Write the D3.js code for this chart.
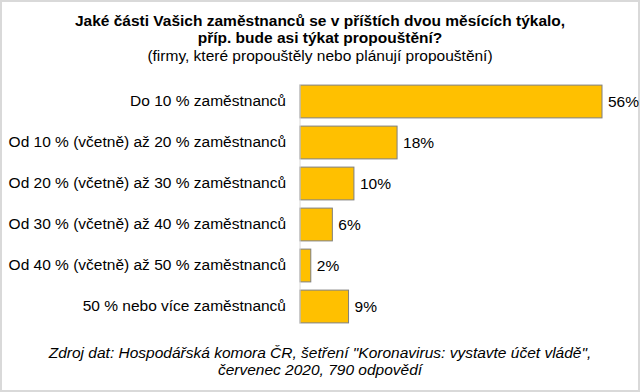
<!DOCTYPE html>
<html>
<head>
<meta charset="utf-8">
<script src="https://cdn.jsdelivr.net/npm/d3@7"></script>
<style>
  body { margin: 0; background: #fff; }
  svg { display: block; font-family: "Liberation Sans", Arial, sans-serif; }
</style>
</head>
<body>
<svg id="chart" width="640" height="392"></svg>
<script>
const categories = [
  "Do 10 % zaměstnanců",
  "Od 10 % (včetně) až 20 % zaměstnanců",
  "Od 20 % (včetně) až 30 % zaměstnanců",
  "Od 30 % (včetně) až 40 % zaměstnanců",
  "Od 40 % (včetně) až 50 % zaměstnanců",
  "50 % nebo více zaměstnanců"
];
const values = [56, 18, 10, 6, 2, 9];
const titleLines = [
  "Jaké části Vašich zaměstnanců se v příštích dvou měsících týkalo,",
  "příp. bude asi týkat propouštění?"
];
const subtitle = "(firmy, které propouštěly nebo plánují propouštění)";
const sourceLines = [
  "Zdroj dat: Hospodářská komora ČR, šetření \"Koronavirus: vystavte účet vládě\",",
  "červenec 2020, 790 odpovědí"
];

const svg = d3.select("#chart");
const width = 640;
const height = 392;

// outer frame
svg.append("rect")
  .attr("x", 1)
  .attr("y", 1)
  .attr("width", width - 2)
  .attr("height", height - 2)
  .attr("fill", "#fff")
  .attr("stroke", "#d9d9d9")
  .attr("stroke-width", 2);

const centerX = 320;

svg.append("g")
  .selectAll("text")
  .data(titleLines)
  .join("text")
  .attr("x", centerX)
  .attr("y", (d, i) => 26 + i * 17)
  .attr("text-anchor", "middle")
  .attr("fill", "#000")
  .style("font-size", "15.5px")
  .style("font-weight", "bold")
  .text((d) => d);

svg.append("text")
  .attr("x", centerX)
  .attr("y", 61)
  .attr("text-anchor", "middle")
  .attr("fill", "#000")
  .style("font-size", "15.5px")
  .text(subtitle);

const x = d3.scaleLinear().domain([0, 56]).range([300, 602]);
const y = d3.scaleBand().domain(categories).range([81, 327]).paddingInner(0.2).paddingOuter(0.1);

svg.append("g")
  .selectAll("rect")
  .data(values)
  .join("rect")
  .attr("x", x(0))
  .attr("y", (d, i) => y(categories[i]))
  .attr("width", (d) => x(d) - x(0))
  .attr("height", y.bandwidth())
  .attr("fill", "#ffc000")
  .attr("stroke", "#7f7f7f")
  .attr("stroke-width", 1);

const yAxis = svg.append("g")
  .attr("transform", `translate(${x(0)},0)`)
  .call(d3.axisLeft(y).tickSize(0).tickPadding(14));
yAxis.select(".domain").remove();
yAxis.selectAll("text")
  .attr("fill", "#000")
  .style("font-size", "15.5px")
  .style("font-family", "\"Liberation Sans\", Arial, sans-serif");

// vertical category axis line
svg.append("line")
  .attr("x1", x(0))
  .attr("x2", x(0))
  .attr("y1", y(categories[0]) - 1)
  .attr("y2", y(categories[categories.length - 1]) + y.bandwidth() + 1)
  .attr("stroke", "#d9d9d9")
  .attr("stroke-width", 1);

svg.append("g")
  .selectAll("text")
  .data(values)
  .join("text")
  .attr("x", (d) => x(d) + 6)
  .attr("y", (d, i) => y(categories[i]) + y.bandwidth() / 2)
  .attr("dy", "0.36em")
  .attr("fill", "#000")
  .style("font-size", "15.5px")
  .text((d) => d + "%");

svg.append("g")
  .selectAll("text")
  .data(sourceLines)
  .join("text")
  .attr("x", centerX)
  .attr("y", (d, i) => 358 + i * 17)
  .attr("text-anchor", "middle")
  .attr("fill", "#000")
  .style("font-size", "15.5px")
  .style("font-style", "italic")
  .text((d) => d);
</script>
</body>
</html>
